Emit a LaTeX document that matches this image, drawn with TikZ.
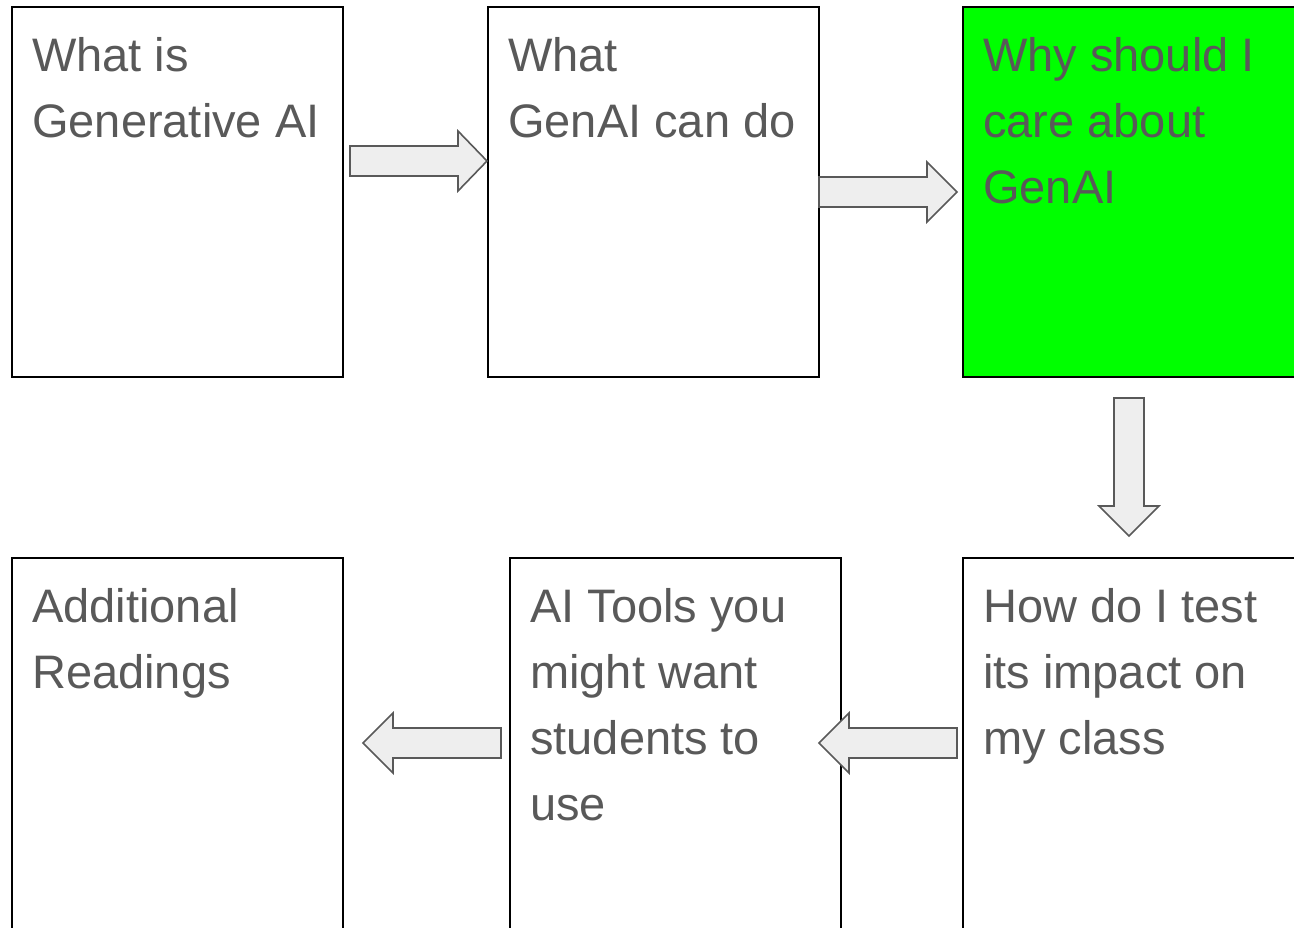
\documentclass[tikz,border=0pt]{standalone}
\usepackage{fontspec}
\setmainfont{Liberation Sans}
\definecolor{txtgray}{HTML}{595959}
\definecolor{arrgray}{HTML}{595959}
\definecolor{arrfill}{HTML}{EEEEEE}
\definecolor{brightgreen}{HTML}{00FF00}
\begin{document}
\begin{tikzpicture}[x=1pt,y=-1pt,
  box/.style={draw=black, line width=1.5pt, fill=white, inner sep=0pt, outer sep=0pt, anchor=north west},
  txt/.style={text=txtgray, font=\fontsize{47}{66}\selectfont, align=left, inner sep=0pt, anchor=north west},
  blockarrow/.style={draw=arrgray, fill=arrfill, line width=1.6pt, line join=miter}]
\useasboundingbox (0,0) rectangle (1294,927);
\fill[white] (0,0) rectangle (1294,927);
% boxes
\node[box, minimum width=331pt, minimum height=370pt] (b1) at (12,7) {};
\node[box, minimum width=331pt, minimum height=370pt] (b2) at (488,7) {};
\node[box, fill=brightgreen, minimum width=345pt, minimum height=370pt] (b3) at (963,7) {};
\node[box, minimum width=331pt, minimum height=380pt] (b4) at (12,558) {};
\node[box, minimum width=331pt, minimum height=380pt] (b5) at (510,558) {};
\node[box, minimum width=345pt, minimum height=380pt] (b6) at (963,558) {};
% texts
\node[txt] (t1) at (32,31) {\rule{0pt}{40pt}What is\\Generative AI};
\node[txt] (t2) at (508,31) {\rule{0pt}{40pt}What\\GenAI can do};
\node[txt] (t3) at (983,31) {\rule{0pt}{40pt}Why should I\\care about\\GenAI};
\node[txt] (t4) at (32,582) {\rule{0pt}{40pt}Additional\\Readings};
\node[txt] (t5) at (530,582) {\rule{0pt}{40pt}AI Tools you\\might want\\students to\\use};
\node[txt] (t6) at (983,582) {\rule{0pt}{40pt}How do I test\\its impact on\\my class};
% block arrows
\draw[blockarrow] (350,146) -- (458,146) -- (458,131) -- (487,161) -- (458,191) -- (458,176) -- (350,176) -- cycle;
\draw[blockarrow] (819,177) -- (927,177) -- (927,162) -- (957,192) -- (927,222) -- (927,207) -- (819,207) -- cycle;
\draw[blockarrow] (1114,398) -- (1144,398) -- (1144,506) -- (1159,506) -- (1129,536) -- (1099,506) -- (1114,506) -- cycle;
\draw[blockarrow] (957,728) -- (849,728) -- (849,713) -- (819,743) -- (849,773) -- (849,758) -- (957,758) -- cycle;
\draw[blockarrow] (501,728) -- (393,728) -- (393,713) -- (363,743) -- (393,773) -- (393,758) -- (501,758) -- cycle;
\end{tikzpicture}
\end{document}
